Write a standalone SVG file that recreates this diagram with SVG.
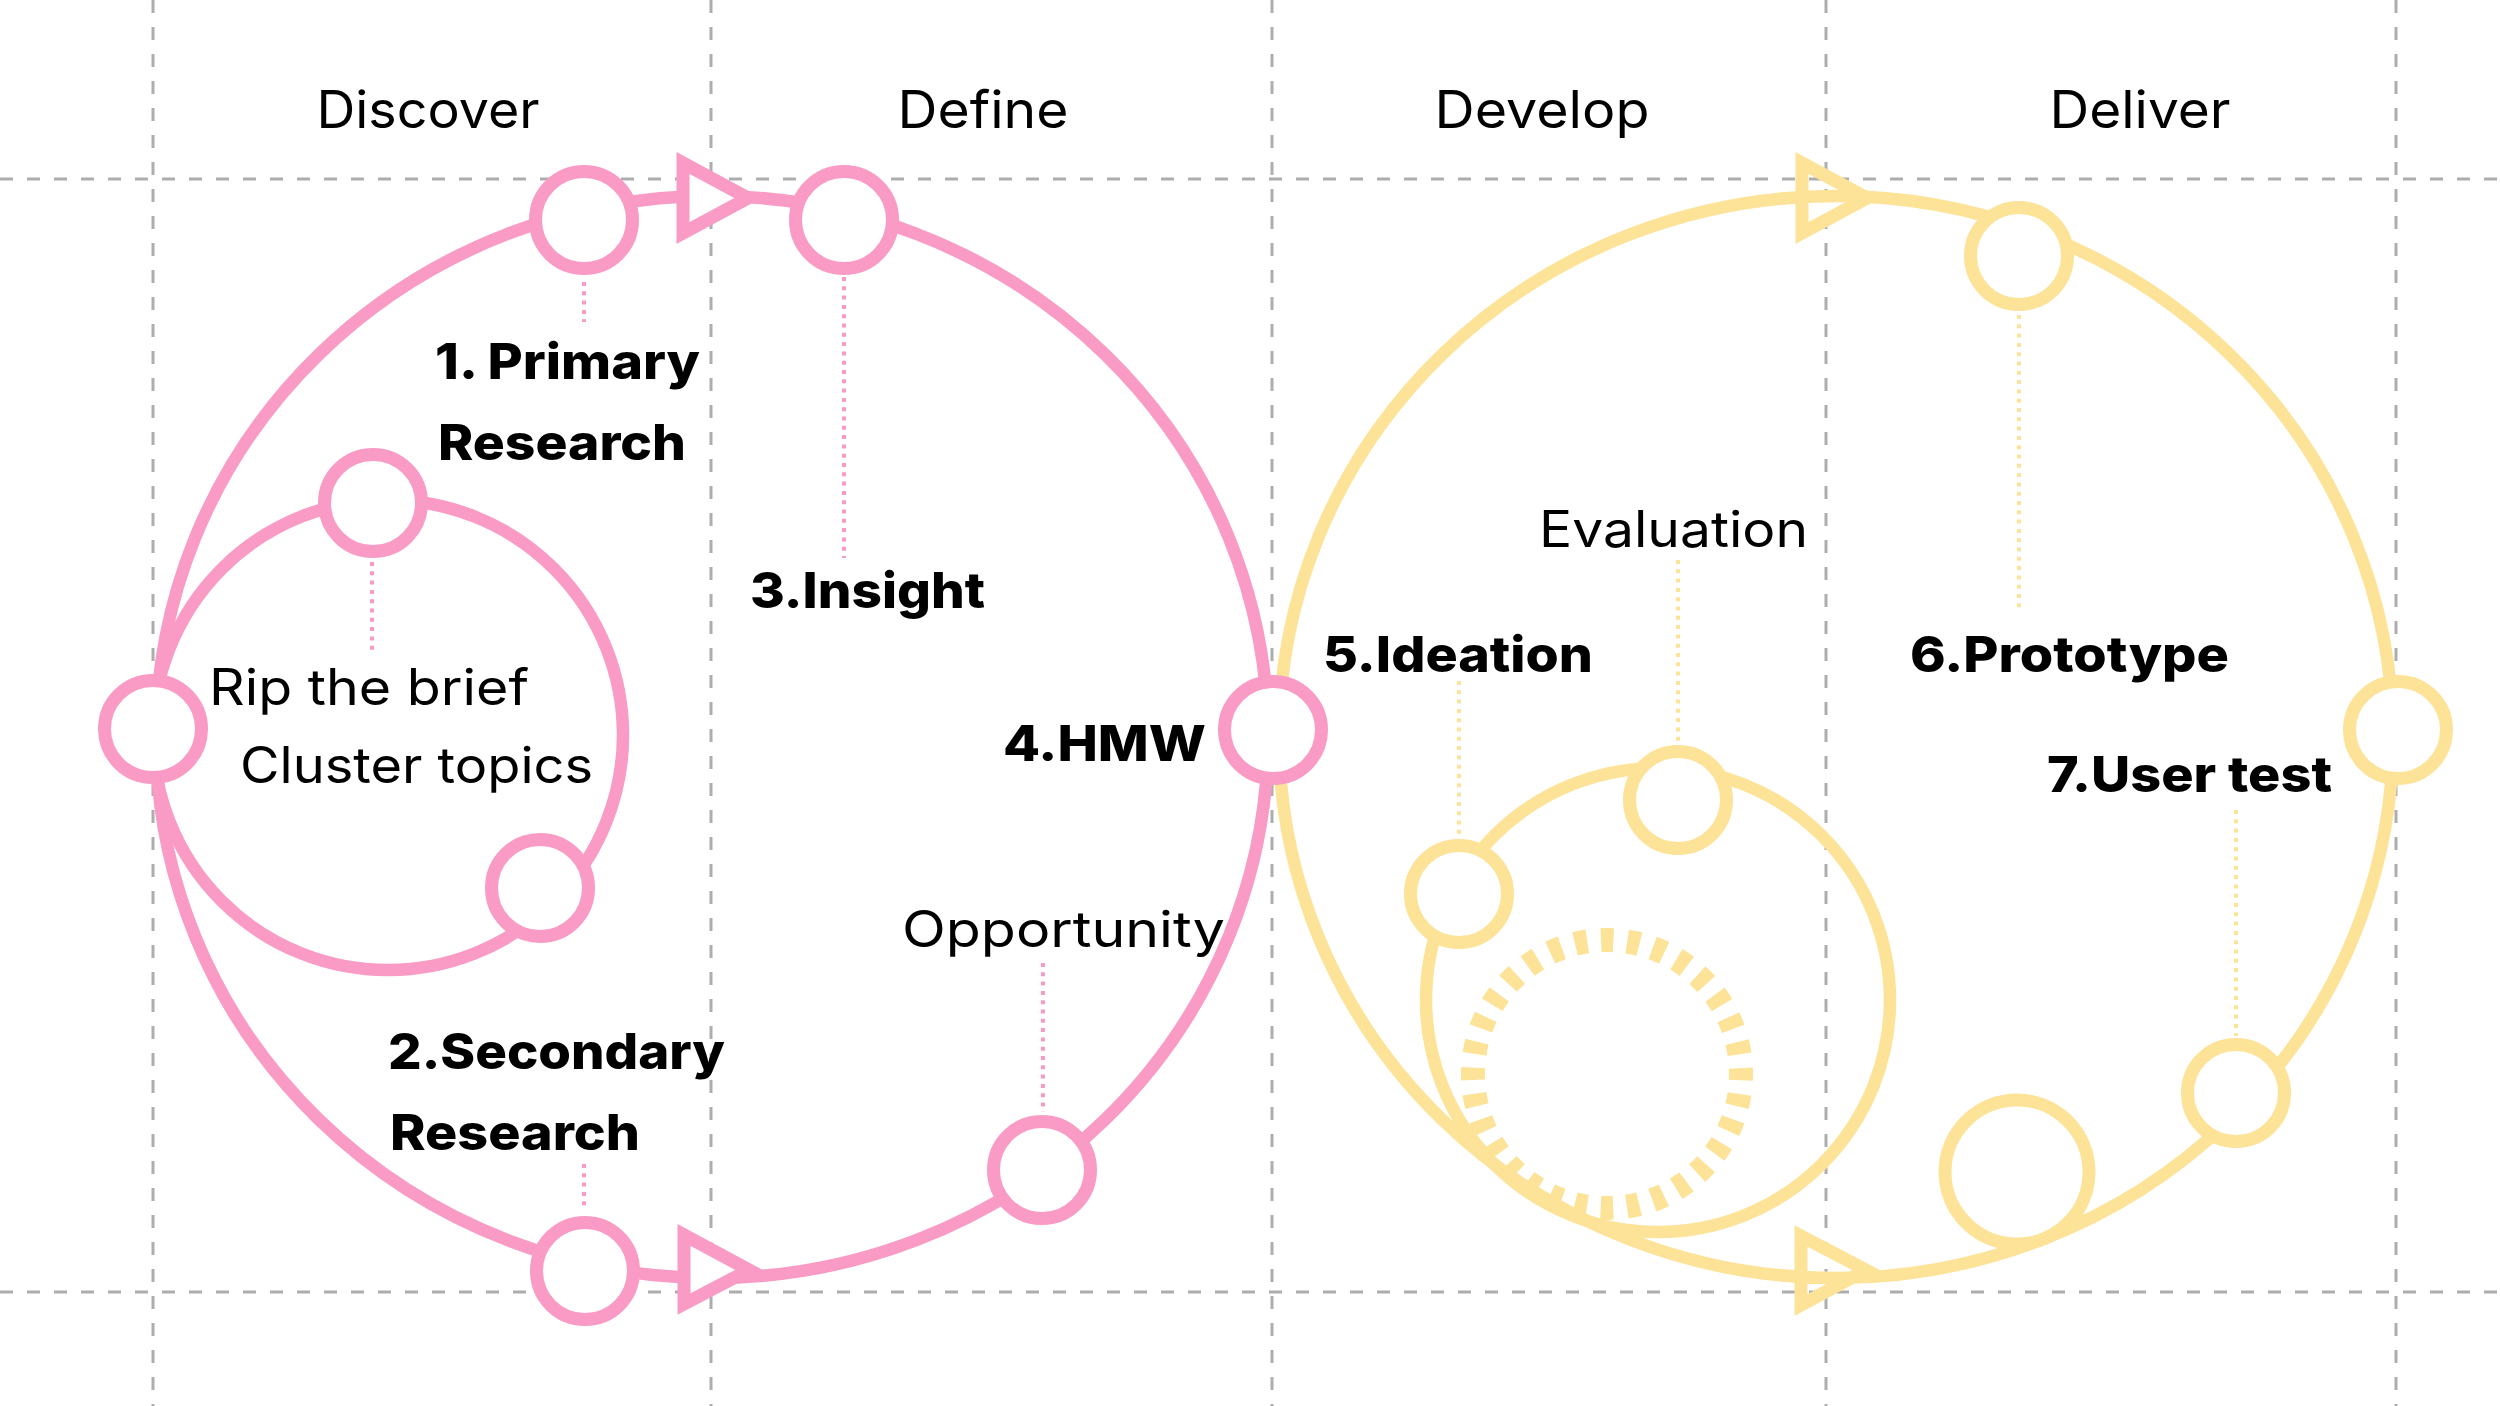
<svg xmlns="http://www.w3.org/2000/svg" width="2500" height="1406" viewBox="0 0 2500 1406">
<style>
.grid{stroke:#ADADAD;stroke-width:3;stroke-dasharray:13 14;fill:none}
.pk{stroke:#F99BC4;stroke-width:12.5;fill:none}
.yl{stroke:#FCE398;stroke-width:12.5;fill:none}
.pkn{stroke:#F99BC4;stroke-width:13;fill:#fff}
.yln{stroke:#FCE398;stroke-width:13;fill:#fff}
.pdot{stroke:#F99BC4;stroke-width:4;stroke-dasharray:4 5.3;fill:none}
.ydot{stroke:#FCE398;stroke-width:4;stroke-dasharray:4 5.3;fill:none}
.arr{stroke-width:13;stroke-linejoin:miter;stroke-miterlimit:10}
text{font-family:Inter,"Liberation Sans",sans-serif;fill:#000}
.t{font-size:52px;font-weight:400}
.b{font-size:50px;font-weight:800}
.r{font-size:50px;font-weight:400}
</style>
<rect width="2500" height="1406" fill="#fff"/>
<g id="grid">
<line class="grid" x1="153" y1="0" x2="153" y2="1406"/>
<line class="grid" x1="711" y1="0" x2="711" y2="1406"/>
<line class="grid" x1="1272" y1="0" x2="1272" y2="1406"/>
<line class="grid" x1="1826" y1="0" x2="1826" y2="1406"/>
<line class="grid" x1="2396" y1="0" x2="2396" y2="1406"/>
<line class="grid" x1="0" y1="179" x2="2500" y2="179"/>
<line class="grid" x1="0" y1="1292" x2="2500" y2="1292"/>
</g>
<g id="phase-titles">
<text class="t" x="428" y="128" text-anchor="middle" textLength="223" lengthAdjust="spacingAndGlyphs">Discover</text>
<text class="t" x="983" y="128" text-anchor="middle" textLength="171" lengthAdjust="spacingAndGlyphs">Define</text>
<text class="t" x="1542" y="128" text-anchor="middle" textLength="215" lengthAdjust="spacingAndGlyphs">Develop</text>
<text class="t" x="2140" y="128" text-anchor="middle" textLength="181" lengthAdjust="spacingAndGlyphs">Deliver</text>
</g>
<g id="connectors">
<ellipse class="yl" cx="1836" cy="737" rx="557" ry="541"/>
<circle class="yl" cx="1658" cy="1000" r="232"/>
<circle cx="1607" cy="1074" r="134" fill="none" stroke="#FCE398" stroke-width="24" stroke-dasharray="12.5 13.81" stroke-dashoffset="6.25"/>
<polygon class="arr" points="1802,163 1802,233 1867,198" fill="none" stroke="#FCE398"/>
<polygon class="arr" points="1801,1236 1801,1305 1866,1270" fill="none" stroke="#FCE398"/>
<line class="ydot" x1="1459" y1="681" x2="1459" y2="835"/>
<line class="ydot" x1="1678" y1="560" x2="1678" y2="743"/>
<line class="ydot" x1="2019" y1="315" x2="2019" y2="612"/>
<line class="ydot" x1="2236" y1="810" x2="2236" y2="1036"/>
<ellipse class="pk" cx="712" cy="737" rx="556" ry="541"/>
<circle class="pk" cx="388" cy="735" r="235"/>
<polygon class="arr" points="683,163 683,233 748,198" fill="#fff" stroke="#F99BC4"/>
<polygon class="arr" points="684,1235 684,1304 749,1270" fill="#fff" stroke="#F99BC4"/>
<line class="pdot" x1="584" y1="282" x2="584" y2="322"/>
<line class="pdot" x1="844" y1="277" x2="844" y2="558"/>
<line class="pdot" x1="372" y1="562" x2="372" y2="650"/>
<line class="pdot" x1="584" y1="1164" x2="584" y2="1209"/>
<line class="pdot" x1="1043" y1="963" x2="1043" y2="1112"/>
</g>
<g id="node-prototype"><circle class="yln" cx="2019" cy="256" r="48.5"/><text class="b" x="1910" y="672" textLength="319" lengthAdjust="spacingAndGlyphs">6.Prototype</text></g>
<g id="node-deliver-end"><circle class="yln" cx="2398" cy="730" r="48.5"/></g>
<g id="node-user-test"><circle class="yln" cx="2236" cy="1093" r="48.5"/><text class="b" x="2047" y="792" textLength="285" lengthAdjust="spacingAndGlyphs">7.User test</text></g>
<g id="node-iteration"><circle class="yln" cx="2017" cy="1172" r="72"/></g>
<g id="node-ideation"><circle class="yln" cx="1459" cy="894" r="48.5"/><text class="b" x="1323" y="672" textLength="270" lengthAdjust="spacingAndGlyphs">5.Ideation</text></g>
<g id="node-evaluation"><circle class="yln" cx="1678" cy="800" r="48.5"/><text class="r" x="1539" y="547" textLength="269" lengthAdjust="spacingAndGlyphs">Evaluation</text></g>
<g id="node-primary-research"><circle class="pkn" cx="584" cy="220" r="48.5"/><text class="b" x="435" y="379" textLength="265" lengthAdjust="spacingAndGlyphs">1. Primary</text><text class="b" x="438" y="460" textLength="248" lengthAdjust="spacingAndGlyphs">Research</text></g>
<g id="node-insight"><circle class="pkn" cx="844" cy="220" r="48.5"/><text class="b" x="750" y="608" textLength="235" lengthAdjust="spacingAndGlyphs">3.Insight</text></g>
<g id="node-hmw"><circle class="pkn" cx="1273" cy="730" r="48.5"/><text class="b" x="1003" y="761" textLength="203" lengthAdjust="spacingAndGlyphs">4.HMW</text></g>
<g id="node-opportunity"><circle class="pkn" cx="1042" cy="1170" r="48.5"/><text class="r" x="902" y="947" textLength="323" lengthAdjust="spacingAndGlyphs">Opportunity</text></g>
<g id="node-secondary-research"><circle class="pkn" cx="585" cy="1271" r="48.5"/><text class="b" x="388" y="1069" textLength="337" lengthAdjust="spacingAndGlyphs">2.Secondary</text><text class="b" x="390" y="1150" textLength="250" lengthAdjust="spacingAndGlyphs">Research</text></g>
<g id="node-start"><circle class="pkn" cx="153" cy="729" r="48.5"/></g>
<g id="node-rip-brief"><circle class="pkn" cx="373" cy="503" r="48.5"/><text class="r" x="209" y="705" textLength="320" lengthAdjust="spacingAndGlyphs">Rip the brief</text></g>
<g id="node-cluster-topics"><circle class="pkn" cx="540" cy="888" r="48.5"/><text class="r" x="240" y="783" textLength="353" lengthAdjust="spacingAndGlyphs">Cluster topics</text></g>
</svg>
